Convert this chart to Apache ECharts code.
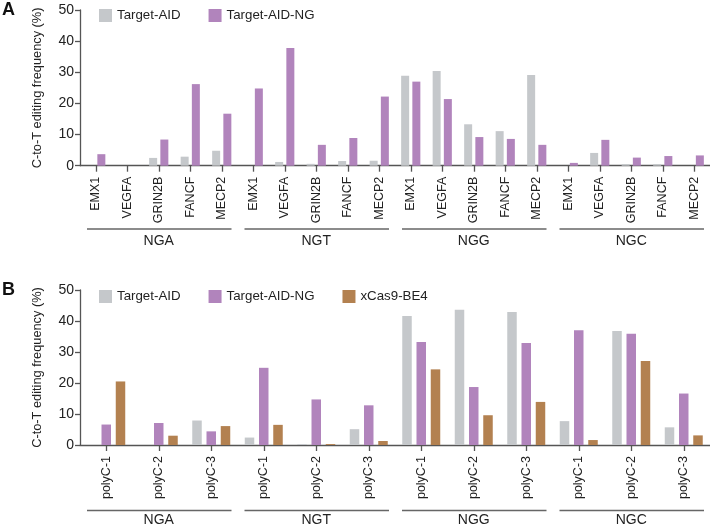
<!DOCTYPE html>
<html><head><meta charset="utf-8">
<script src="https://cdn.jsdelivr.net/npm/echarts@6/dist/echarts.min.js"></script>
<style>html,body{margin:0;padding:0;background:#fff}#c{width:710px;height:527px}</style>
</head><body><div id="c"></div>
<script>
const genes = ['EMX1','VEGFA','GRIN2B','FANCF','MECP2'];
const pams = ['NGA','NGT','NGG','NGC'];
const polyC = ['polyC-1','polyC-2','polyC-3'];
const yTicks = [0,10,20,30,40,50];

// Panel A values (order: NGA x genes, NGT x genes, NGG x genes, NGC x genes)
const aTargetAID   = [0,0,2.5,2.9,4.8, 0,1.2,0.6,1.5,1.6, 28.9,30.4,13.3,11.1,29.1, 0,4.1,0.5,0.5,0];
const aTargetAIDNG = [3.7,0,8.4,26.2,16.7, 24.8,37.8,6.7,8.9,22.2, 27.0,21.4,9.2,8.6,6.7, 0.9,8.3,2.6,3.1,3.3];

// Panel B values (order: NGA x polyC, NGT, NGG, NGC)
const bTargetAID   = [0,0,7.9, 2.4,0.3,5.1, 41.6,43.6,42.9, 7.7,36.8,5.7];
const bTargetAIDNG = [6.6,7.1,4.4, 24.9,14.7,12.8, 33.2,18.7,32.9, 37.0,35.9,16.6];
const bXCas9BE4    = [20.5,3.0,6.1, 6.5,0.3,1.3, 24.4,9.6,13.9, 1.6,27.1,3.1];

const seriesNames = ['Target-AID','Target-AID-NG','xCas9-BE4'];
const colors = {'Target-AID':'#c5c8cb','Target-AID-NG':'#b184bc','xCas9-BE4':'#b38150'};

const catsA = pams.flatMap(() => genes);
const catsB = pams.flatMap(() => polyC);

const FONT = 'Liberation Sans';
const AX = '#555';

function yAxis(gi){
  return {gridIndex:gi, type:'value', min:yTicks[0], max:yTicks[yTicks.length-1], interval:10,
    name:'C-to-T editing frequency (%)', nameLocation:'middle', nameGap:36, nameRotate:90,
    nameTextStyle:{fontFamily:FONT, fontSize:12.8, color:'#222'},
    axisLine:{show:true, lineStyle:{color:AX, width:1.3}},
    axisTick:{show:true, length:5, lineStyle:{color:AX, width:1.3}},
    axisLabel:{fontFamily:FONT, fontSize:14, color:'#222', margin:6},
    splitLine:{show:false}};
}
function xAxis(gi, cats){
  return {gridIndex:gi, type:'category', data:cats,
    axisLine:{show:true, lineStyle:{color:AX, width:1.3}},
    axisTick:{show:true, alignWithLabel:true, length:6, lineStyle:{color:AX, width:1.3}},
    axisLabel:{rotate:90, fontFamily:FONT, fontSize:12.5, color:'#222', margin:11, interval:0}};
}
function groupAxis(gi, offset){
  return {gridIndex:gi, type:'category', data:pams, position:'bottom', offset:offset,
    axisLine:{show:false}, axisTick:{show:false},
    axisLabel:{fontFamily:FONT, fontSize:14, color:'#222', interval:0, margin:8}};
}
function bar(name, data, xi, yi, w, gap){
  return {name, type:'bar', data, xAxisIndex:xi, yAxisIndex:yi, barWidth:w, barGap:gap,
    itemStyle:{color:colors[name]}, animation:false};
}

const chart = echarts.init(document.getElementById('c'), null, {renderer:'canvas'});
const option = {
  animation:false,
  grid:[
    {left:80, right:0, top:10, height:155.7},
    {left:80, right:0, top:290, height:156.7}
  ],
  xAxis:[xAxis(0,catsA), xAxis(1,catsB), groupAxis(0,60), groupAxis(1,60)],
  yAxis:[yAxis(0), yAxis(1)],
  legend:[
    {data:seriesNames.slice(0,2), left:99, top:9, padding:0, itemWidth:13, itemHeight:13, itemGap:28,
     icon:'rect', textStyle:{fontFamily:FONT, fontSize:13.3, color:'#222'}},
    {data:seriesNames.slice(0,3), left:99, top:290, padding:0, itemWidth:13, itemHeight:13, itemGap:28,
     icon:'rect', textStyle:{fontFamily:FONT, fontSize:13.3, color:'#222'}}
  ],
  series:[
    bar('Target-AID', aTargetAID, 0, 0, 8, '40%'),
    bar('Target-AID-NG', aTargetAIDNG, 0, 0, 8, '40%'),
    bar('Target-AID', bTargetAID, 1, 1, 9.5, '50%'),
    bar('Target-AID-NG', bTargetAIDNG, 1, 1, 9.5, '50%'),
    bar('xCas9-BE4', bXCas9BE4, 1, 1, 9.5, '50%')
  ]
};
chart.setOption(option);

// group underlines positioned from the category scale
function groupLines(xi, per, y){
  const els = [];
  const p0 = chart.convertToPixel({xAxisIndex:xi}, 0);
  const p1 = chart.convertToPixel({xAxisIndex:xi}, 1);
  const w = p1 - p0;
  for (let gi = 0; gi < pams.length; gi++) {
    const first = chart.convertToPixel({xAxisIndex:xi}, gi*per);
    const last = chart.convertToPixel({xAxisIndex:xi}, gi*per+per-1);
    els.push({type:'line', shape:{x1:first - w/2 + 7, y1:y, x2:last + w/2 - 6, y2:y},
      style:{stroke:'#666', lineWidth:1.5}});
  }
  return els;
}
const g = [
  {type:'text', left:2, top:1, style:{text:'A', font:'bold 18px "Liberation Sans"', fill:'#111'}},
  {type:'text', left:2, top:281, style:{text:'B', font:'bold 18px "Liberation Sans"', fill:'#111'}}
].concat(groupLines(0, 5, 229), groupLines(1, 3, 510.5));
chart.setOption({graphic:g});
</script></body></html>
